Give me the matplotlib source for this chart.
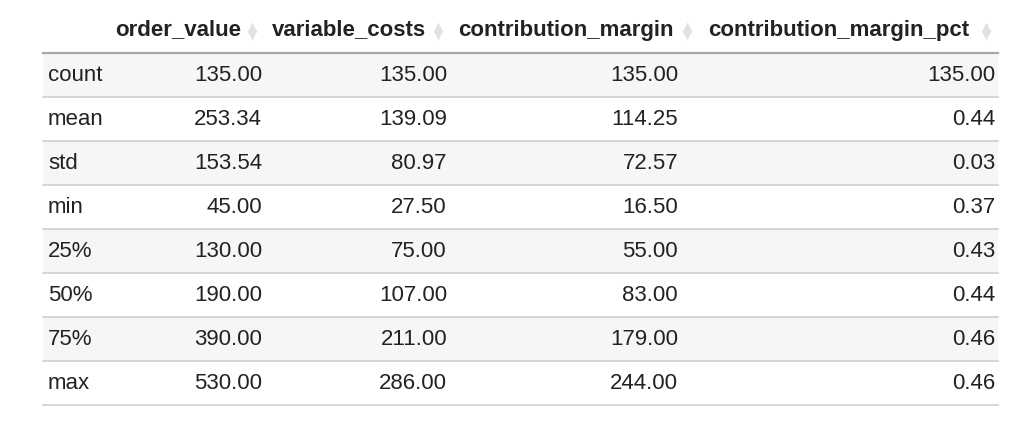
import matplotlib.pyplot as plt
from matplotlib.patches import Rectangle

columns = ["order_value", "variable_costs", "contribution_margin", "contribution_margin_pct"]
row_labels = ["count", "mean", "std", "min", "25%", "50%", "75%", "max"]
order_value = [135.00, 253.34, 153.54, 45.00, 130.00, 190.00, 390.00, 530.00]
variable_costs = [135.00, 139.09, 80.97, 27.50, 75.00, 107.00, 211.00, 286.00]
contribution_margin = [135.00, 114.25, 72.57, 16.50, 55.00, 83.00, 179.00, 244.00]
contribution_margin_pct = [135.00, 0.44, 0.03, 0.37, 0.43, 0.44, 0.46, 0.46]
values = [order_value, variable_costs, contribution_margin, contribution_margin_pct]

plt.rcParams['font.family'] = ['Liberation Sans', 'DejaVu Sans']

fig = plt.figure(figsize=(10.24, 4.25), dpi=100)
ax = fig.add_axes([0, 0, 1, 1])
ax.set_xlim(0, 1024)
ax.set_ylim(425, 0)
ax.axis('off')

text_col = '#222222'
fs = 16
left, right = 43, 998
header_bottom = 53
row_h = 44
col_right = [262, 447, 678, 995]
head_left = [115, 272, 458, 708]
icon_x = [252, 438, 687, 986]

# header
for name, x, ix in zip(columns, head_left, icon_x):
    ax.text(x, 30, name, ha='left', va='center', fontsize=fs,
            fontweight='bold', color=text_col)
    ax.plot([ix], [26.5], marker='^', ms=7.5, color='#e2e2e2', mec='none')
    ax.plot([ix], [35], marker='v', ms=7.5, color='#e2e2e2', mec='none')

ax.plot([left, right], [header_bottom, header_bottom], color='#a8a8a8', lw=1.6)

for i, lab in enumerate(row_labels):
    top = header_bottom + i * row_h
    if i % 2 == 0:
        ax.add_patch(Rectangle((left, top), right - left, row_h,
                               facecolor='#f6f6f6', edgecolor='none', zorder=0))
    yc = top + row_h / 2 + 0.5
    ax.text(48, yc, lab, ha='left', va='center', fontsize=fs, color=text_col)
    for j, col in enumerate(values):
        ax.text(col_right[j], yc, f"{col[i]:.2f}", ha='right', va='center',
                fontsize=fs, color=text_col)
    ax.plot([left, right], [top + row_h, top + row_h], color='#d0d0d0', lw=1.2)

fig.savefig('out.png', dpi=100)
